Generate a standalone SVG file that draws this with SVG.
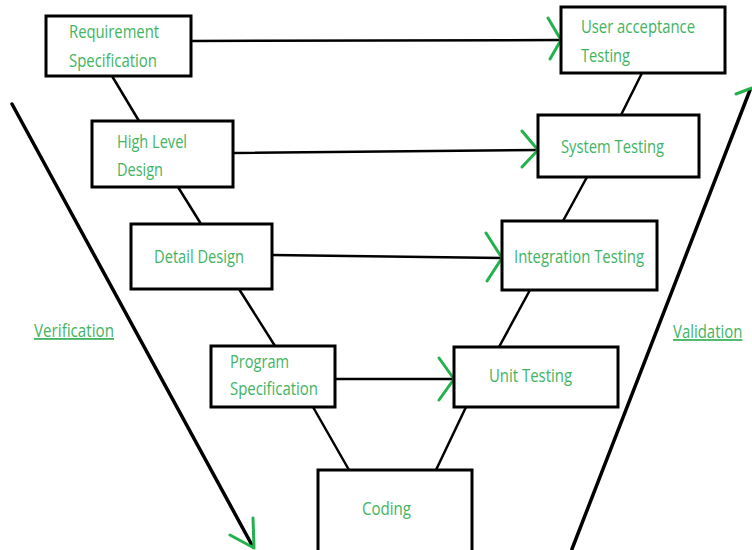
<svg xmlns="http://www.w3.org/2000/svg" width="752" height="550" viewBox="0 0 752 550">
  <style>
    .box { fill: #ffffff; stroke: #000000; stroke-width: 3; }
    .lbl { font-family: "Open Sans", "Liberation Sans", sans-serif; font-size: 18px; fill: #3fb462; }
    .side { font-family: "Open Sans", "Liberation Sans", sans-serif; font-size: 18px; fill: #3fb462; text-decoration: underline; }
    .link { stroke: #000000; stroke-width: 2.5; fill: none; stroke-linecap: round; }
    .flow { stroke: #000000; stroke-width: 3.5; fill: none; stroke-linecap: round; }
    .head { stroke: #22b14c; stroke-width: 3; fill: none; stroke-linecap: round; stroke-linejoin: round; }
  </style>
  <rect width="752" height="550" fill="#ffffff"/>

  <g id="connectors">
    <!-- left side of the V -->
    <line class="link" x1="112" y1="76" x2="139" y2="121"/>
    <line class="link" x1="178" y1="187" x2="201" y2="224"/>
    <line class="link" x1="239" y1="289" x2="275" y2="346"/>
    <line class="link" x1="313" y1="407" x2="349" y2="470"/>
    <!-- right side of the V -->
    <line class="link" x1="642" y1="73" x2="621" y2="115"/>
    <line class="link" x1="587" y1="177" x2="563" y2="221"/>
    <line class="link" x1="530" y1="290" x2="499" y2="347"/>
    <line class="link" x1="466" y1="407" x2="436" y2="470"/>
    <!-- horizontal test links -->
    <line class="link" x1="191" y1="41" x2="561" y2="40"/>
    <polyline class="head" points="548,18 561,40 550,59"/>
    <line class="link" x1="234" y1="153" x2="538" y2="150"/>
    <polyline class="head" points="522,131 538,150 522,167"/>
    <line class="link" x1="272" y1="255" x2="502" y2="258"/>
    <polyline class="head" points="486,233 502,258 487,281"/>
    <line class="link" x1="335" y1="379" x2="454" y2="379"/>
    <polyline class="head" points="439,358 454,379 439,400"/>
    <!-- verification / validation flow lines -->
    <line class="flow" x1="12" y1="104" x2="253" y2="547"/>
    <polyline class="head" points="230,535 254,548 253,518"/>
    <line class="flow" x1="572" y1="549" x2="750" y2="90"/>
    <line class="head" x1="736" y1="94" x2="752" y2="88"/>
  </g>

  <g id="requirement-specification">
    <rect class="box" x="46" y="16" width="145" height="60"/>
    <text class="lbl" x="69" y="38" textLength="90" lengthAdjust="spacingAndGlyphs">Requirement</text>
    <text class="lbl" x="69" y="67" textLength="88" lengthAdjust="spacingAndGlyphs">Specification</text>
  </g>
  <g id="high-level-design">
    <rect class="box" x="92" y="121" width="141" height="66"/>
    <text class="lbl" x="117" y="148" textLength="70" lengthAdjust="spacingAndGlyphs">High Level</text>
    <text class="lbl" x="117" y="176" textLength="46" lengthAdjust="spacingAndGlyphs">Design</text>
  </g>
  <g id="detail-design">
    <rect class="box" x="131" y="224" width="141" height="65"/>
    <text class="lbl" x="154" y="263" textLength="90" lengthAdjust="spacingAndGlyphs">Detail Design</text>
  </g>
  <g id="program-specification">
    <rect class="box" x="211" y="346" width="124" height="61"/>
    <text class="lbl" x="230" y="368" textLength="59" lengthAdjust="spacingAndGlyphs">Program</text>
    <text class="lbl" x="230" y="395" textLength="88" lengthAdjust="spacingAndGlyphs">Specification</text>
  </g>
  <g id="coding">
    <rect class="box" x="318" y="470" width="154" height="84"/>
    <text class="lbl" x="362" y="515" textLength="49" lengthAdjust="spacingAndGlyphs">Coding</text>
  </g>
  <g id="unit-testing">
    <rect class="box" x="454" y="347" width="164" height="60"/>
    <text class="lbl" x="489" y="382" textLength="83" lengthAdjust="spacingAndGlyphs">Unit Testing</text>
  </g>
  <g id="integration-testing">
    <rect class="box" x="502" y="221" width="155" height="69"/>
    <text class="lbl" x="514" y="263" textLength="130" lengthAdjust="spacingAndGlyphs">Integration Testing</text>
  </g>
  <g id="system-testing">
    <rect class="box" x="538" y="115" width="161" height="62"/>
    <text class="lbl" x="561" y="153" textLength="103" lengthAdjust="spacingAndGlyphs">System Testing</text>
  </g>
  <g id="user-acceptance-testing">
    <rect class="box" x="561" y="7" width="164" height="66"/>
    <text class="lbl" x="581" y="33" textLength="114" lengthAdjust="spacingAndGlyphs">User acceptance</text>
    <text class="lbl" x="581" y="62" textLength="49" lengthAdjust="spacingAndGlyphs">Testing</text>
  </g>

  <g id="verification">
    <text class="side" x="34" y="337" textLength="80" lengthAdjust="spacingAndGlyphs">Verification</text>
  </g>
  <g id="validation">
    <!-- horizontally condensed so the label stays inside the right edge -->
    <text class="side" transform="translate(673 338) scale(0.83 1)" x="0" y="0">Validation</text>
  </g>
</svg>
